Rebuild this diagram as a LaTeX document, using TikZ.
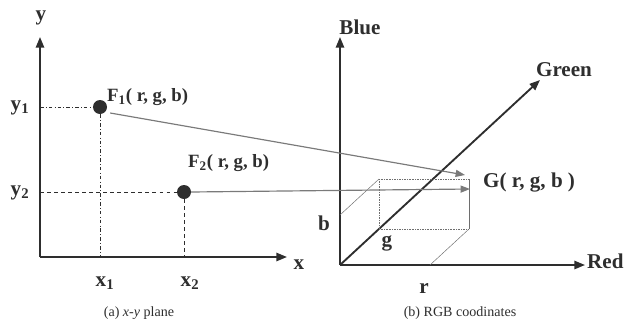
\documentclass[tikz,border=0pt]{standalone}
\usepackage{fontspec}
\setmainfont{Liberation Serif}
\usetikzlibrary{arrows.meta}
\definecolor{axisgray}{HTML}{2E2E2E}
\definecolor{mapgray}{HTML}{7A7A7A}
\definecolor{boxgray}{HTML}{6E6E6E}

\begin{document}
\begin{tikzpicture}[
  x=0.03cm, y=0.03cm,
  % Node styles
  label/.style={
    font=\fontsize{16}{18}\selectfont\bfseries,
    text=axisgray,
    inner sep=0pt,
  },
  var label/.style={
    label,
    font=\fontsize{18}{20}\selectfont\bfseries,
  },
  caption/.style={
    font=\fontsize{12}{14}\selectfont,
    text=axisgray,
    inner sep=0pt,
  },
  point/.style={
    circle,
    fill=axisgray,
    minimum size=14*0.03cm,
    inner sep=0pt,
  },
  % Edge styles
  axis/.style={
    draw=axisgray,
    line width=1.6pt,
    -{Triangle[length=9pt,width=7pt]},
  },
  mapping/.style={
    draw=mapgray,
    line width=1pt,
    -{Triangle[length=8pt,width=6pt]},
  },
  guide/.style={
    draw=axisgray,
    line width=0.5pt,
  },
  boxedge/.style={
    draw=boxgray,
    line width=0.4pt,
  },
]
  \useasboundingbox (0,0) rectangle (625,324);

  % (a) x-y plane
  \coordinate (O1) at (40,67);
  \coordinate (Ytip) at (40,287);
  \coordinate (Xtip) at (287,67);
  \draw[axis] (O1) -- (Ytip);
  \draw[axis] (O1) -- (Xtip);

  \node[point] (F1) at (100,217) {};
  \node[point] (F2) at (184,132) {};

  % projections onto the axes
  \coordinate (Y1) at (40,217);
  \coordinate (Y2) at (40,132);
  \coordinate (X1) at (100,67);
  \coordinate (X2) at (184,67);
  \draw[guide, dash dot] (Y1) -- (F1.west);
  \draw[guide, dash dot] (F1.south) -- (X1);
  \draw[guide, dashed] (Y2) -- (F2.west);
  \draw[guide, dashed] (F2.south) -- (X2);

  \node[var label] (ylab) at (41,306) {y};
  \node[var label] (xlab) at (299,59) {x};
  \node[var label] (y1lab) at (20,216) {y\textsubscript{1}};
  \node[var label] (y2lab) at (20,131) {y\textsubscript{2}};
  \node[var label] (x1lab) at (105,41) {x\textsubscript{1}};
  \node[var label] (x2lab) at (190,41) {x\textsubscript{2}};
  \node[label, anchor=west] (F1lab) at (107,227) {F\textsubscript{1}( r, g, b)};
  \node[label, anchor=west] (F2lab) at (188,161) {F\textsubscript{2}( r, g, b)};
  \node[caption] (capa) at (139,11) {(a) \textit{x-y} plane};

  % (b) RGB coordinates
  \coordinate (O2) at (340,59);
  \coordinate (Btip) at (340,287);
  \coordinate (Rtip) at (585,59);
  \coordinate (Gtip) at (540,244);
  \draw[axis] (O2) -- (Btip);
  \draw[axis] (O2) -- (Rtip);
  \draw[axis] (O2) -- (Gtip);

  % colour box (b, g, r offsets from the origin)
  \coordinate (b) at (340,109);
  \coordinate (g) at (379,95);
  \coordinate (r) at (430,59);
  \coordinate (bg) at (379,145);
  \coordinate (rg) at (469,95);
  \coordinate (rgb) at (469,145);
  \draw[boxedge] (b) -- (bg);
  \draw[boxedge] (r) -- (rg);
  \draw[boxedge] (rg) -- (rgb);
  \draw[boxedge, densely dotted] (bg) -- (rgb);
  \draw[boxedge, densely dotted] (bg) -- (g);
  \draw[boxedge, densely dotted] (g) -- (rg);

  \node[var label] (Blue) at (360,297) {Blue};
  \node[var label] (Green) at (564,254) {Green};
  \node[var label, anchor=west] (Red) at (587,63) {Red};
  \node[var label, anchor=west] (Glab) at (483,141) {G( r, g, b )};
  \node[var label] (blab) at (324,101) {b};
  \node[var label] (glab) at (387,81) {g};
  \node[var label] (rlab) at (424,36) {r};
  \node[caption] (capb) at (460,11) {(b) RGB coodinates};

  % mappings from the plane into colour space
  \coordinate (G1) at (465,149);
  \coordinate (G2) at (470,135);
  \draw[mapping] (F1.east) ++(3,-6) -- (G1);
  \draw[mapping] (F2.east) -- (G2);

\end{tikzpicture}
\end{document}
